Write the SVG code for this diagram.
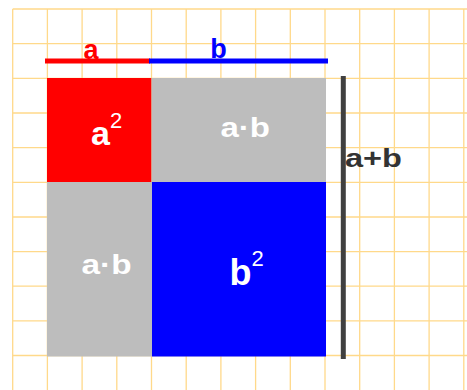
<svg xmlns="http://www.w3.org/2000/svg" width="467" height="390" viewBox="0 0 467 390">
<style>
.grid line{stroke:#ffd98a;stroke-width:1.3}
text{font-family:"Liberation Sans",Arial,sans-serif;font-weight:bold}
.w{fill:#ffffff}
.sup{font-weight:normal}
</style>
<rect width="467" height="390" fill="#ffffff"/>
<g class="grid">
<line x1="12.7" y1="9" x2="12.7" y2="390"/>
<line x1="47.4" y1="9" x2="47.4" y2="390"/>
<line x1="82.1" y1="9" x2="82.1" y2="390"/>
<line x1="116.8" y1="9" x2="116.8" y2="390"/>
<line x1="151.5" y1="9" x2="151.5" y2="390"/>
<line x1="186.2" y1="9" x2="186.2" y2="390"/>
<line x1="220.9" y1="9" x2="220.9" y2="390"/>
<line x1="255.6" y1="9" x2="255.6" y2="390"/>
<line x1="290.3" y1="9" x2="290.3" y2="390"/>
<line x1="325" y1="9" x2="325" y2="390"/>
<line x1="359.7" y1="9" x2="359.7" y2="390"/>
<line x1="394.4" y1="9" x2="394.4" y2="390"/>
<line x1="429.1" y1="9" x2="429.1" y2="390"/>
<line x1="463.8" y1="9" x2="463.8" y2="390"/>
<line x1="12.7" y1="9" x2="467" y2="9"/>
<line x1="12.7" y1="43.7" x2="467" y2="43.7"/>
<line x1="12.7" y1="78.3" x2="467" y2="78.3"/>
<line x1="12.7" y1="113" x2="467" y2="113"/>
<line x1="12.7" y1="147.6" x2="467" y2="147.6"/>
<line x1="12.7" y1="182.3" x2="467" y2="182.3"/>
<line x1="12.7" y1="217" x2="467" y2="217"/>
<line x1="12.7" y1="251.6" x2="467" y2="251.6"/>
<line x1="12.7" y1="286.2" x2="467" y2="286.2"/>
<line x1="12.7" y1="320.9" x2="467" y2="320.9"/>
<line x1="12.7" y1="355.5" x2="467" y2="355.5"/>
</g>
<g id="len-a">
<line x1="45" y1="61" x2="150" y2="61" stroke="#ff0000" stroke-width="5"/>
<text x="91" y="58.5" font-size="27" fill="#ff0000" text-anchor="middle">a</text>
</g>
<g id="len-b">
<line x1="149" y1="61" x2="328" y2="61" stroke="#0000ff" stroke-width="5"/>
<text x="218.5" y="57.5" font-size="27" fill="#0000ff" text-anchor="middle">b</text>
</g>
<g id="sq-a2">
<rect x="47" y="78" width="104.5" height="104" fill="#ff0000"/>
<text x="91" y="145" font-size="34" class="w">a<tspan class="sup" font-size="22" dy="-17.5">2</tspan></text>
</g>
<g id="rect-ab-top">
<rect x="151.5" y="78" width="174.5" height="104" fill="#bdbdbd"/>
<text x="220.5" y="136.5" font-size="27" class="w" textLength="49.5" lengthAdjust="spacingAndGlyphs">a·b</text>
</g>
<g id="rect-ab-bottom">
<rect x="47" y="182" width="105" height="174.5" fill="#bdbdbd"/>
<text x="81.5" y="273.5" font-size="27" class="w" textLength="50" lengthAdjust="spacingAndGlyphs">a·b</text>
</g>
<g id="sq-b2">
<rect x="152" y="182" width="174" height="174.5" fill="#0000ff"/>
<text x="229.5" y="285" font-size="36" class="w">b<tspan class="sup" font-size="22" dy="-19">2</tspan></text>
</g>
<g id="len-ab">
<line x1="343.3" y1="76" x2="343.3" y2="359" stroke="#404040" stroke-width="5"/>
<text x="345" y="166.7" font-size="26" fill="#333333" textLength="57" lengthAdjust="spacingAndGlyphs">a+b</text>
</g>
</svg>
